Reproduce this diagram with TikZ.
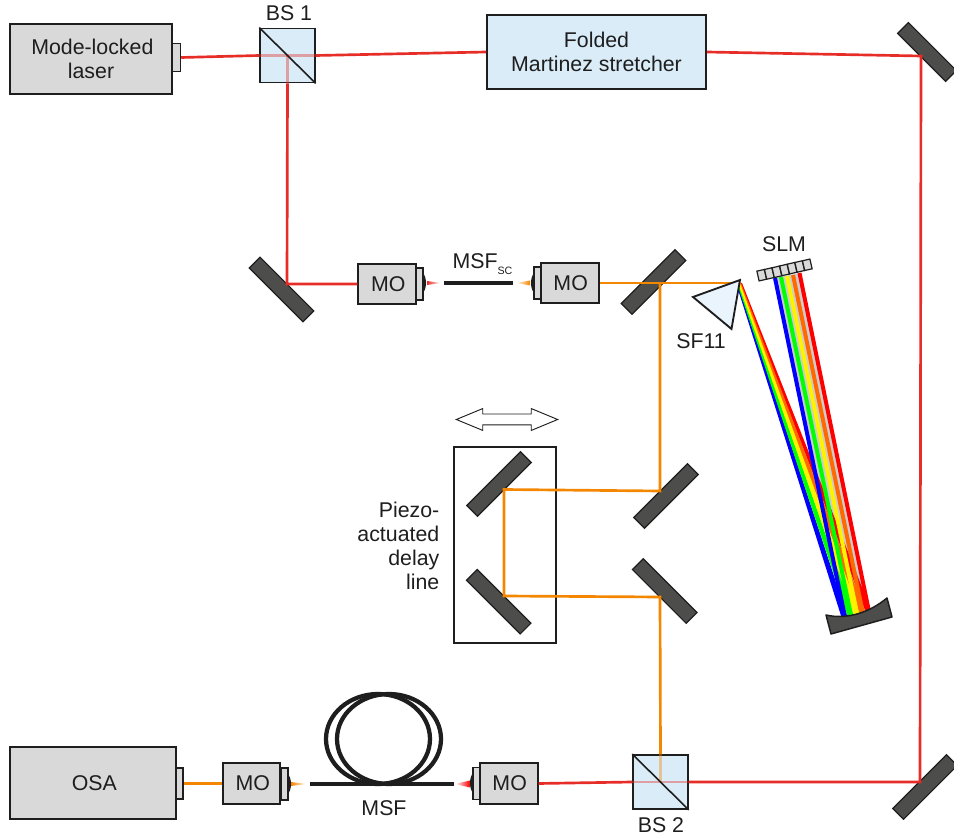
\documentclass[tikz,border=0pt]{standalone}
\usepackage{fontspec}
\setmainfont{Liberation Sans}
\usetikzlibrary{shapes.arrows, positioning, calc}
\definecolor{BoxGray}{RGB}{217, 217, 217}
\definecolor{MirrorGray}{RGB}{77, 77, 75}
\definecolor{CubeBlue}{RGB}{218, 236, 248}
\definecolor{PrismBlue}{RGB}{234, 244, 252}
\definecolor{InkBlack}{RGB}{30, 30, 30}
\definecolor{BeamRed}{RGB}{230, 45, 40}
\definecolor{BeamOrange}{RGB}{245, 135, 0}
\definecolor{BandGray}{RGB}{205, 205, 205}
\definecolor{RayOrange}{RGB}{255, 105, 0}
\begin{document}
\begin{tikzpicture}[
        x=0.75pt, y=-0.75pt,
        every node/.style={font=\fontsize{16}{18}\selectfont, text=InkBlack},
        % Boxes
        box/.style={rectangle, draw=InkBlack, line width=1.5pt, fill=BoxGray, inner sep=0pt, align=center},
        moBox/.style={box, line width=1.4pt, minimum width=43pt, minimum height=30.5pt},
        port/.style={box, line width=1.1pt, minimum width=5.5pt, minimum height=24pt},
        cube/.style={box, line width=1.4pt, fill=CubeBlue, minimum width=41pt, minimum height=40.5pt},
        mirror/.style={rectangle, draw=InkBlack, line width=0.9pt, fill=MirrorGray, inner sep=0pt, minimum width=57pt, minimum height=11.5pt},
        slmCell/.style={rectangle, draw=InkBlack, line width=0.9pt, fill=BoxGray, inner sep=0pt, minimum width=5.7pt, minimum height=7.5pt},
        % Beams
        redBeam/.style={draw=BeamRed, line width=2pt},
        orangeBeam/.style={draw=BeamOrange, line width=2pt},
        fibre/.style={draw=InkBlack, line width=3.2pt},
        band/.style={line width=3pt}
    ]
    \path[use as bounding box] (0,0) rectangle (954,837);

    % --- NODES ---
    \node[box, minimum width=121.5pt, minimum height=52pt] (laser) at (91,59) {\hspace{2pt}Mode-locked\\laser};
    \node[port, minimum width=6pt, minimum height=21pt] (laserPort) at (176.5,57.5) {};
    \node[cube] (bsOne) at (287.5,55.5) {};
    \node[box, fill=CubeBlue, minimum width=164pt, minimum height=55pt] (stretcher) at (596.5,52) {Folded\\Martinez stretcher};
    \node[moBox] (moA) at (387,284) {\hspace{2pt}MO};
    \node[port] (moAPort) at (419.5,284) {};
    \node[moBox] (moB) at (570,283) {\hspace{1pt}MO};
    \node[port] (moBPort) at (537.5,283) {};
    \node[box, minimum width=124pt, minimum height=54pt] (osa) at (93,783) {\hspace{2pt}OSA};
    \node[port, minimum height=23pt] (osaPort) at (179.5,783.5) {};
    \node[moBox] (moC) at (251.5,783.5) {\hspace{2pt}MO};
    \node[port] (moCPort) at (284.5,784) {};
    \node[moBox] (moD) at (509,783.5) {\hspace{1pt}MO};
    \node[port] (moDPort) at (476.5,783.5) {};
    \node[cube] (bsTwo) at (660.5,782) {};
    \node[draw=InkBlack, line width=0.8pt, minimum width=76.5pt, minimum height=147pt] (delayBox) at (505,545) {};

    % --- MIRRORS ---
    \node[mirror, rotate=-45, minimum width=51pt] (mirrorTop) at (927,52) {};
    \node[mirror, rotate=45] (mirrorBottom) at (925,787) {};
    \node[mirror, rotate=-45] (mirrorLeft) at (281.5,289.5) {};
    \node[mirror, rotate=45] (mirrorFlip) at (653.5,282) {};
    \node[mirror, rotate=45] (delayA) at (499,484) {};
    \node[mirror, rotate=-45] (delayB) at (498.7,601.7) {};
    \node[mirror, rotate=45] (foldA) at (666,496) {};
    \node[mirror, rotate=-45] (foldB) at (664.7,591) {};

    % --- LABELS ---
    \node (bsOneLabel) at (289,13) {BS 1};
    \node (bsTwoLabel) at (661,825) {BS 2};
    \node (msfScLabel) at (482.5,264) {MSF\raisebox{-0.5ex}{\fontsize{8}{8}\selectfont SC}};
    \node (msfLabel) at (384,808) {MSF};
    \node (slmLabel) at (784,244) {SLM};
    \node (prismLabel) at (701,341) {SF11};
    \node[align=right, anchor=east] (piezoLabel) at (444,546) {Piezo-\\actuated\\delay\\line};

    % --- STAGE ARROW ---
    \node[double arrow, draw=InkBlack, fill=white, line width=0.7pt, inner sep=0pt,
          minimum height=76pt, double arrow head extend=4.1pt,
          double arrow tip angle=45, double arrow head indent=0pt] (stageArrow) at (507,419.5) {\rule{0pt}{7.5pt}};

    % --- BEAM TURNING POINTS ---
    \coordinate (hitTop) at (921,56);
    \coordinate (hitBottom) at (920,782);
    \coordinate (hitLeft) at (287,284);
    \coordinate (hitFlip) at (660,283);
    \coordinate (hitDelayA) at (504,489.5);
    \coordinate (hitDelayB) at (504,596);
    \coordinate (hitFoldA) at (660,491);
    \coordinate (hitFoldB) at (660,597);
    \coordinate (prismTip) at (739,283);

    % --- RED PATH ---
    \draw[redBeam] (laserPort.east) -- (bsOne.west);
    \draw[redBeam, opacity=0.4] (bsOne.west) -- (bsOne.east);
    \draw[redBeam, opacity=0.4] (bsOne.center) -- (bsOne.south);
    \draw[redBeam] (bsOne.east) -- (stretcher.west);
    \draw[redBeam] (bsOne.south) -- (hitLeft) -- (moA.west);
    \draw[redBeam] (stretcher.east) -- (hitTop) -- (hitBottom) -- (bsTwo.east);
    \draw[redBeam, opacity=0.4] (bsTwo.east) -- (bsTwo.west);
    \draw[redBeam] (bsTwo.west) -- (moD.east);

    % --- ORANGE PATH ---
    \draw[orangeBeam] (moB.east) -- (prismTip);
    \draw[orangeBeam] (hitFlip) -- (hitFoldA) -- (hitDelayA) -- (hitDelayB) -- (hitFoldB) -- (bsTwo.north);
    \draw[orangeBeam, opacity=0.4] (bsTwo.north) -- (bsTwo.center);
    \draw[orangeBeam] (osaPort.east) -- (moC.west);

    % --- CUBE DIAGONALS ---
    \draw[draw=InkBlack, line width=1.2pt] (bsOne.north west) -- (bsOne.south east);
    \draw[draw=InkBlack, line width=1.2pt] (bsTwo.north west) -- (bsTwo.south east);

    % --- FOCUSED LIGHT AT THE OBJECTIVES ---
    \shade[left color=BeamRed, right color=white] (427,281) -- (441,283) -- (427,285) -- cycle;
    \shade[left color=white, right color=BeamOrange] (516,283) -- (530,280.5) -- (530,285.5) -- cycle;
    \shade[left color=BeamOrange, right color=white] (291,782) -- (307,784) -- (291,786) -- cycle;
    \shade[left color=white, right color=red] (455,784) -- (470,780.5) -- (470,787.5) -- cycle;
    \fill[InkBlack] (423,273) .. controls (427,278) and (427,288) .. (423,293) -- cycle;
    \fill[InkBlack] (534,273) .. controls (530,278) and (530,288) .. (534,293) -- cycle;
    \fill[InkBlack] (288,774) .. controls (292,779) and (292,789) .. (288,794) -- cycle;
    \fill[InkBlack] (473,773) .. controls (469,778) and (469,788) .. (473,793) -- cycle;

    % --- FIBRES ---
    \node[inner sep=0pt] (msfScIn) at (443,283) {};
    \node[inner sep=0pt] (msfScOut) at (514,283) {};
    \node[inner sep=0pt] (msfIn) at (309,784) {};
    \node[inner sep=0pt] (msfOut) at (455,784) {};
    \draw[fibre, line width=3.6pt] (msfScIn) -- (msfScOut);
    \draw[fibre] (msfIn) -- (msfOut);
    \draw[fibre] (378,739) ellipse [x radius=52, y radius=45];
    \draw[fibre] (389,739) ellipse [x radius=52, y radius=45];

    % --- RAINBOW FROM THE SLM ---
    \coordinate (slmBlue) at (775,278);
    \coordinate (slmGreen) at (781,277);
    \coordinate (slmYellow) at (787,276);
    \coordinate (slmOrange) at (793,275);
    \coordinate (slmRed) at (799.5,273);
    \coordinate (cmBlue) at (846,622);
    \coordinate (cmGreen) at (852,620);
    \coordinate (cmYellow) at (858,618);
    \coordinate (cmOrange) at (863.5,616);
    \coordinate (cmRed) at (869.5,614);

    % band shadow, prism fan, then the collimated colours
    \fill[BandGray] (slmBlue) -- (slmRed) -- (cmRed) -- (cmBlue) -- cycle;
    \fill[blue] ($(prismTip)+(-3,0)$) -- ($(cmBlue)+(-3,0)$) -- ($(cmBlue)+(3,0)$) -- ($(prismTip)+(-1,0)$) -- cycle;
    \fill[red] ($(prismTip)+(1,0)$) -- ($(cmRed)+(-3,0)$) -- ($(cmRed)+(3,0)$) -- ($(prismTip)+(3,0)$) -- cycle;
    \fill[green] ($(prismTip)+(-2,0)$) -- ($(cmGreen)+(-3,0)$) -- ($(cmGreen)+(3,0)$) -- ($(prismTip)+(0,0)$) -- cycle;
    \fill[RayOrange] ($(prismTip)+(0,0)$) -- ($(cmOrange)+(-3,0)$) -- ($(cmOrange)+(3,0)$) -- ($(prismTip)+(2,0)$) -- cycle;
    \fill[yellow] ($(prismTip)+(-1,0)$) -- ($(cmYellow)+(-3,0)$) -- ($(cmYellow)+(3,0)$) -- ($(prismTip)+(1,0)$) -- cycle;
    \draw[band, blue] (slmBlue) -- (cmBlue);
    \draw[band, green] (slmGreen) -- (cmGreen);
    \draw[band, yellow] (slmYellow) -- (cmYellow);
    \draw[band, RayOrange] (slmOrange) -- (cmOrange);
    \draw[band, red] (slmRed) -- (cmRed);

    % --- PRISM, SLM, CURVED MIRROR ---
    \draw[draw=InkBlack, line width=1.4pt, fill=PrismBlue, line join=miter] (740,280) -- (693,297) -- (731.5,329) -- cycle;
    \node[slmCell, rotate=13] (slmA) at (761.7,275.2) {};
    \node[slmCell, rotate=13] (slmB) at (769.3,273.5) {};
    \node[slmCell, rotate=13] (slmC) at (776.9,271.8) {};
    \node[slmCell, rotate=13] (slmD) at (784.5,270) {};
    \node[slmCell, rotate=13] (slmE) at (792.1,268.2) {};
    \node[slmCell, rotate=13] (slmF) at (799.7,266.5) {};
    \node[slmCell, rotate=13] (slmG) at (807.3,264.8) {};
    \draw[draw=InkBlack, line width=1.1pt, fill=MirrorGray, line join=round] (826,615) .. controls (848,620) and (870,612) .. (887,598) -- (892,617) -- (831,634) -- cycle;

\end{tikzpicture}
\end{document}
